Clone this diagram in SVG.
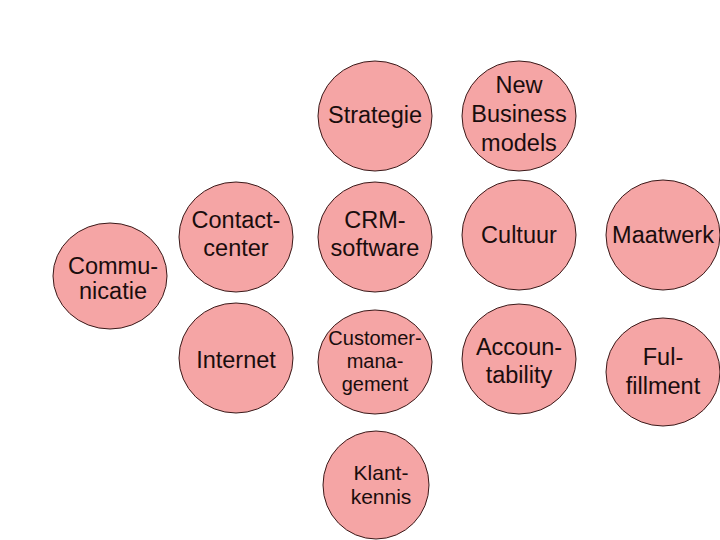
<svg xmlns="http://www.w3.org/2000/svg" width="720" height="540" viewBox="0 0 720 540">
<style>
ellipse{fill:#f5a5a5;stroke:#3a1a1a;stroke-width:1}
text{font-family:"Liberation Sans",Arial,sans-serif;font-size:23.5px;fill:#1a0d0d;text-anchor:middle}
.s{font-size:20px}
.k{font-size:21px}
</style>
<rect width="720" height="540" fill="#ffffff"/>
<g id="connectors"></g>
<g id="strategie"><ellipse cx="375" cy="116" rx="57" ry="55"/><text x="375" y="123">Strategie</text></g>
<g id="newbusiness"><ellipse cx="519" cy="116" rx="57" ry="55"/><text x="519" y="93">New</text><text x="519" y="122">Business</text><text x="519" y="151">models</text></g>
<g id="communicatie"><ellipse cx="110" cy="276" rx="57" ry="53"/><text x="113" y="274">Commu-</text><text x="113" y="299">nicatie</text></g>
<g id="contactcenter"><ellipse cx="236" cy="237" rx="57" ry="55"/><text x="236" y="228">Contact-</text><text x="236" y="256">center</text></g>
<g id="crm"><ellipse cx="375" cy="237" rx="57" ry="55"/><text x="375" y="228">CRM-</text><text x="375" y="256">software</text></g>
<g id="cultuur"><ellipse cx="519" cy="235" rx="57" ry="55"/><text x="519" y="243">Cultuur</text></g>
<g id="maatwerk"><ellipse cx="663" cy="235" rx="57" ry="55"/><text x="663" y="243">Maatwerk</text></g>
<g id="internet"><ellipse cx="236" cy="358" rx="57" ry="55"/><text x="236" y="368">Internet</text></g>
<g id="customer"><ellipse cx="375" cy="362" rx="57" ry="52"/><text class="s" x="375" y="345">Customer-</text><text class="s" x="375" y="368">mana-</text><text class="s" x="375" y="391">gement</text></g>
<g id="accountability"><ellipse cx="519" cy="359" rx="57" ry="55"/><text x="519" y="355">Accoun-</text><text x="519" y="383">tability</text></g>
<g id="fulfillment"><ellipse cx="663" cy="372" rx="57" ry="54"/><text x="663" y="365">Ful-</text><text x="663" y="394">fillment</text></g>
<g id="klantkennis"><ellipse cx="376" cy="485" rx="53" ry="54"/><text class="k" x="381" y="480">Klant-</text><text class="k" x="381" y="504">kennis</text></g>
</svg>
